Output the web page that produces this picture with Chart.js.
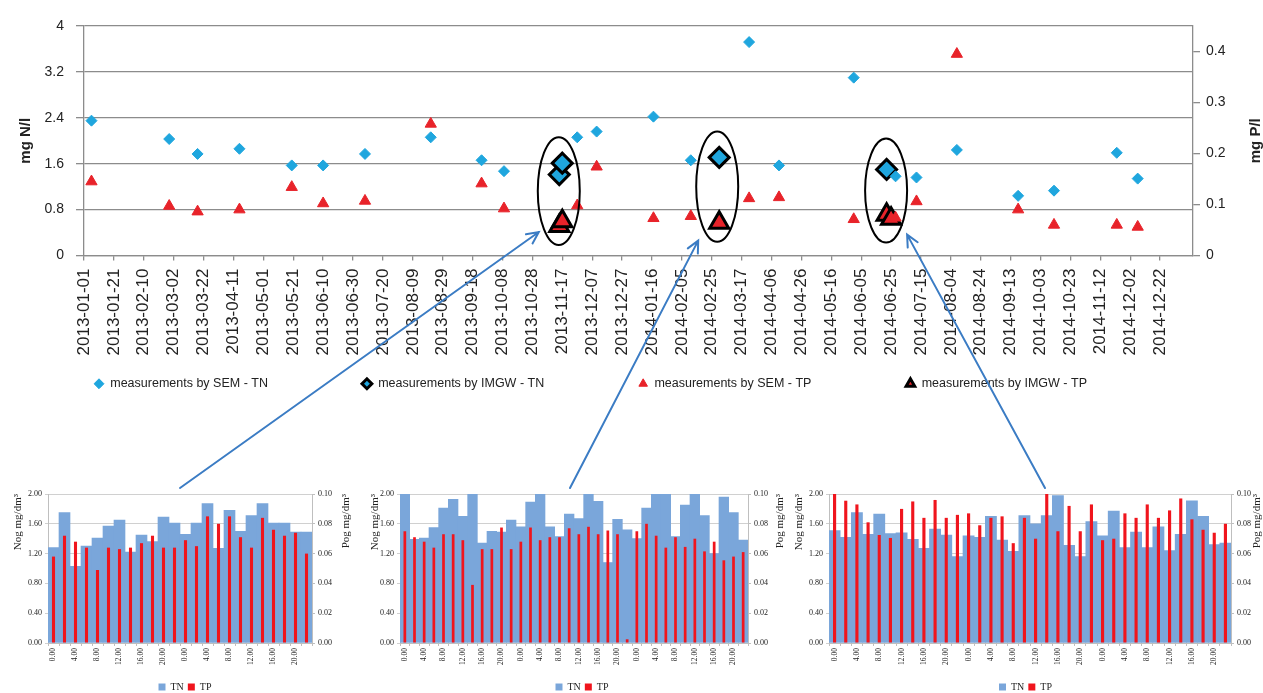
<!DOCTYPE html>
<html>
<head>
<meta charset="utf-8">
<script src="https://cdn.jsdelivr.net/npm/chart.js@4.4.1/dist/chart.umd.min.js"></script>
<style>
html, body { margin: 0; padding: 0; background: #fff; overflow: hidden; }
body { width: 1263px; height: 693px; position: relative; }
canvas { position: absolute; }
</style>
</head>
<body>
<canvas id="main" width="1263" height="400" style="left:0px;top:0px"></canvas>
<canvas id="day1" width="370" height="220" style="left:0px;top:482px"></canvas>
<canvas id="day2" width="440" height="220" style="left:362px;top:482px"></canvas>
<canvas id="day3" width="475" height="220" style="left:788px;top:482px"></canvas>
<canvas id="arrows" width="1263" height="693" style="left:0px;top:0px;pointer-events:none"></canvas>
<script>
// tick labels of the date axis (every 20 days)
var xTickLabels = ['2013-01-01','2013-01-21','2013-02-10','2013-03-02','2013-03-22','2013-04-11','2013-05-01','2013-05-21',
  '2013-06-10','2013-06-30','2013-07-20','2013-08-09','2013-08-29','2013-09-18','2013-10-08','2013-10-28','2013-11-17',
  '2013-12-07','2013-12-27','2014-01-16','2014-02-05','2014-02-25','2014-03-17','2014-04-06','2014-04-26','2014-05-16',
  '2014-06-05','2014-06-25','2014-07-15','2014-08-04','2014-08-24','2014-09-13','2014-10-03','2014-10-23','2014-11-12',
  '2014-12-02','2014-12-22'];
var xMinDate = '2013-01-01';
var xMaxDate = '2015-01-13';

// SEM measurements
var semDates = ['2013-01-06','2013-02-27','2013-03-18','2013-04-15','2013-05-20','2013-06-10','2013-07-08','2013-08-21',
  '2013-09-24','2013-10-09','2013-11-27','2013-12-10','2014-01-17','2014-02-11','2014-03-22','2014-04-11','2014-05-31',
  '2014-06-28','2014-07-12','2014-08-08','2014-09-18','2014-10-12','2014-11-23','2014-12-07'];
var semTN = [2.35, 2.03, 1.77, 1.86, 1.57, 1.57, 1.77, 2.06, 1.66, 1.47, 2.06, 2.16, 2.42, 1.66, 3.72, 1.57, 3.10,
  1.38, 1.36, 1.84, 1.04, 1.13, 1.79, 1.34];
var semTP = [0.145, 0.097, 0.086, 0.090, 0.134, 0.102, 0.107, 0.258, 0.141, 0.092, 0.098, 0.174, 0.073, 0.077, 0.112,
  0.114, 0.071, 0.074, 0.106, 0.395, 0.090, 0.060, 0.060, 0.056];

// IMGW measurements
var imgwTnDates = ['2013-11-15','2013-11-17','2014-03-02','2014-06-22'];
var imgwTN = [1.41, 1.61, 1.71, 1.50];
var imgwTpDates = ['2013-11-15','2013-11-17','2014-03-02','2014-06-22','2014-06-25'];
var imgwTP = [0.058, 0.067, 0.064, 0.080, 0.072];

// 2-hourly IMGW series
var hourLabels = ['0.00','2.00','4.00','6.00','8.00','10.00','12.00','14.00','16.00','18.00','20.00','22.00'];
var day1TN = [1.28, 1.75, 1.03, 1.30, 1.41, 1.57, 1.65, 1.22, 1.45, 1.36, 1.69, 1.61, 1.46, 1.61, 1.87, 1.27,
  1.78, 1.50, 1.71, 1.87, 1.61, 1.61, 1.49, 1.49];
var day1TP = [0.058, 0.072, 0.068, 0.064, 0.049, 0.064, 0.063, 0.064, 0.067, 0.072, 0.064, 0.064, 0.069, 0.065,
  0.085, 0.080, 0.085, 0.071, 0.064, 0.084, 0.076, 0.072, 0.074, 0.060];
var day2TN = [2.00, 1.39, 1.41, 1.55, 1.81, 1.93, 1.70, 2.00, 1.34, 1.50, 1.49, 1.65, 1.56, 1.89, 2.00, 1.56, 1.43, 1.73,
  1.67, 2.00, 1.90, 1.08, 1.66, 1.52, 1.40, 1.81, 2.00, 2.00, 1.43, 1.85, 2.00, 1.71, 1.20, 1.96, 1.75, 1.38];
var day2TP = [0.075, 0.071, 0.068, 0.064, 0.073, 0.073, 0.069, 0.039, 0.063, 0.063, 0.0775, 0.063, 0.068, 0.0775,
  0.069, 0.071, 0.071, 0.077, 0.073, 0.078, 0.073, 0.0755, 0.073, 0.0025, 0.075, 0.080, 0.072, 0.064, 0.071, 0.0645,
  0.070, 0.0615, 0.068, 0.0555, 0.058, 0.061];
var day3TN = [1.51, 1.42, 1.75, 1.46, 1.73, 1.47, 1.48, 1.39, 1.27, 1.53, 1.45, 1.16, 1.44, 1.42, 1.70, 1.38, 1.23,
  1.71, 1.60, 1.71, 1.98, 1.31, 1.16, 1.63, 1.44, 1.77, 1.28, 1.49, 1.28, 1.56, 1.24, 1.46, 1.91, 1.70, 1.32, 1.34];
var day3TP = [0.100, 0.0955, 0.093, 0.081, 0.0725, 0.0705, 0.090, 0.095, 0.084, 0.096, 0.084, 0.086, 0.087, 0.079,
  0.084, 0.085, 0.067, 0.084, 0.070, 0.100, 0.075, 0.092, 0.075, 0.093, 0.069, 0.070, 0.087, 0.084, 0.093, 0.084,
  0.089, 0.097, 0.083, 0.076, 0.074, 0.080];

Chart.defaults.font.family = 'Liberation Sans';
Chart.defaults.color = '#333';
Chart.defaults.animation = false;

function dayOf(s) {
  var p = s.split('-'), q = xMinDate.split('-');
  return (Date.UTC(+p[0], p[1] - 1, +p[2]) - Date.UTC(+q[0], q[1] - 1, +q[2])) / 86400000;
}
function points(dates, vals) {
  return dates.map(function (d, i) { return { x: dayOf(d), y: vals[i] }; });
}

// vertical title drawn bottom-to-top next to a right axis
var sideTitle = {
  id: 'sideTitle',
  afterDraw: function (chart, args, o) {
    var s = chart.scales[o.axis], ctx = chart.ctx;
    var y = o.align === 'end' ? s.top : (s.top + s.bottom) / 2;
    ctx.save();
    ctx.translate(s.left + o.dx, y);
    ctx.rotate(-Math.PI / 2);
    ctx.font = o.font;
    ctx.fillStyle = '#222';
    ctx.textAlign = o.align === 'end' ? 'right' : 'center';
    ctx.textBaseline = 'middle';
    ctx.fillText(o.text, 0, 0);
    ctx.restore();
  }
};

// let the long date labels run down past the (short) x axis box
var labelRoom = {
  id: 'labelRoom',
  afterLayout: function (chart, args, o) {
    var s = chart.scales.x;
    s.bottom = s.top + o.height;
  }
};

// ellipses round the IMGW campaigns
var campaigns = {
  id: 'campaigns',
  afterDatasetsDraw: function (chart) {
    var xs = chart.scales.x, ys = chart.scales.y, y1 = chart.scales.y1, ctx = chart.ctx;
    var pts = [];
    imgwTnDates.forEach(function (d, i) { pts.push([xs.getPixelForValue(dayOf(d)), ys.getPixelForValue(imgwTN[i])]); });
    imgwTpDates.forEach(function (d, i) { pts.push([xs.getPixelForValue(dayOf(d)), y1.getPixelForValue(imgwTP[i])]); });
    pts.sort(function (a, b) { return a[0] - b[0]; });
    var groups = [];
    pts.forEach(function (p) {
      var g = groups[groups.length - 1];
      if (g && p[0] - g.last < 20) { g.pts.push(p); g.last = p[0]; }
      else groups.push({ pts: [p], last: p[0] });
    });
    chart.$ellipses = groups.map(function (g) {
      var xsum = 0, top = Infinity, bot = -Infinity;
      g.pts.forEach(function (p) { xsum += p[0]; top = Math.min(top, p[1]); bot = Math.max(bot, p[1]); });
      top -= 26; bot += 19;
      var cy = (top + bot) / 2;
      return { cx: xsum / g.pts.length - 2, cy: cy, rx: 21, ry: Math.max((bot - top) / 2, 52) };
    });
    ctx.save();
    ctx.strokeStyle = '#000';
    ctx.lineWidth = 2;
    chart.$ellipses.forEach(function (e) {
      ctx.beginPath();
      ctx.ellipse(e.cx, e.cy, e.rx, e.ry, 0, 0, Math.PI * 2);
      ctx.stroke();
    });
    ctx.restore();
  }
};

var gridGrey = '#8c8c8c';
var blue = '#1fa6de', red = '#e8232a';

var main = new Chart(document.getElementById('main'), {
  type: 'scatter',
  data: {
    datasets: [
      { label: 'measurements by SEM - TN', data: points(semDates, semTN), yAxisID: 'y',
        pointStyle: 'rectRot', pointRadius: 5.5, backgroundColor: blue, borderColor: blue, borderWidth: 1 },
      { label: 'measurements by IMGW - TN', data: points(imgwTnDates, imgwTN), yAxisID: 'y',
        pointStyle: 'rectRot', pointRadius: 10, backgroundColor: blue, borderColor: '#000', borderWidth: 3 },
      { label: 'measurements by SEM - TP', data: points(semDates, semTP), yAxisID: 'y1',
        pointStyle: 'triangle', pointRadius: 6.5, backgroundColor: red, borderColor: red, borderWidth: 1 },
      { label: 'measurements by IMGW - TP', data: points(imgwTpDates, imgwTP), yAxisID: 'y1',
        pointStyle: 'triangle', pointRadius: 11, backgroundColor: red, borderColor: '#000', borderWidth: 3 }
    ]
  },
  options: {
    responsive: false,
    layout: { padding: { top: 26 } },
    plugins: {
      tooltip: { enabled: false },
      legend: {
        position: 'bottom', align: 'start',
        labels: { usePointStyle: true, boxWidth: 10, boxHeight: 7, padding: 94, color: '#222',
          font: { size: 12.5 } }
      },
      sideTitle: { axis: 'y1', text: 'mg P/l', dx: 63, align: 'center', font: 'bold 15px "Liberation Sans"' },
      labelRoom: { height: 110 }
    },
    scales: {
      x: {
        type: 'linear', position: 'bottom',
        min: dayOf(xMinDate), max: dayOf(xMaxDate),
        afterBuildTicks: function (s) { s.ticks = xTickLabels.map(function (d) { return { value: dayOf(d) }; }); },
        afterFit: function (s) { s.height = 28; },
        ticks: { autoSkip: false, minRotation: 90, maxRotation: 90, padding: 8, color: '#222', font: { size: 17 },
          callback: function (v, i) { return xTickLabels[i]; } },
        grid: { drawOnChartArea: false, tickLength: 5, color: gridGrey, lineWidth: 1.3 },
        border: { color: gridGrey, width: 1.3 }
      },
      y: {
        position: 'left', min: 0, max: 4,
        afterFit: function (s) { s.width = 84; },
        ticks: { stepSize: 0.8, padding: 12, color: '#222', font: { size: 14 },
          callback: function (v) { return String(Math.round(v * 10) / 10); } },
        grid: { color: gridGrey, lineWidth: 1.3, tickLength: 8 },
        border: { color: gridGrey, width: 1.3 },
        title: { display: true, text: 'mg N/l', color: '#222', font: { size: 15, weight: 'bold' }, padding: { top: 17 } }
      },
      y1: {
        position: 'right', min: 0, max: 0.45,
        afterBuildTicks: function (s) { s.ticks = [0, 0.1, 0.2, 0.3, 0.4].map(function (v) { return { value: v }; }); },
        afterFit: function (s) { s.width = 70; },
        ticks: { padding: 6, color: '#222', font: { size: 14 },
          callback: function (v) { return String(Math.round(v * 10) / 10); } },
        grid: { drawOnChartArea: false, color: gridGrey, lineWidth: 1.3, tickLength: 7 },
        border: { color: gridGrey, width: 1.3 }
      }
    }
  },
  plugins: [campaigns, sideTitle, labelRoom]
});

function dayChart(id, tn, tp, nDays, o) {
  var labels = [];
  for (var d = 0; d < nDays; d++) labels = labels.concat(hourLabels);
  var serif = 'Liberation Serif';
  return new Chart(document.getElementById(id), {
    type: 'bar',
    data: {
      labels: labels,
      datasets: [
        { label: 'TN', data: tn, yAxisID: 'y', backgroundColor: '#7aa6da', borderWidth: 0,
          barPercentage: 1, categoryPercentage: 1, grouped: false, order: 1 },
        { label: 'TP', data: tp, yAxisID: 'y1', backgroundColor: '#f0151d', borderWidth: 0,
          barPercentage: 0.28, categoryPercentage: 1, grouped: false, order: 0 }
      ]
    },
    options: {
      responsive: false,
      layout: { padding: { top: 12 } },
      plugins: {
        tooltip: { enabled: false },
        legend: {
          position: 'bottom',
          labels: { boxWidth: 7, boxHeight: 7, padding: 4, color: '#222', font: { family: serif, size: 10 },
            sort: function (a, b) { return a.datasetIndex - b.datasetIndex; } }
        },
        sideTitle: { axis: 'y1', text: 'Pog mg/dm³', dx: o.rightTitleDx, align: 'end', font: '11px "Liberation Serif"' }
      },
      scales: {
        x: {
          afterFit: function (s) { s.height = 35; },
          ticks: { autoSkip: false, minRotation: 90, maxRotation: 90, padding: 2, color: '#222',
            font: { family: serif, size: 7.5 },
            callback: function (v, i) { return i % 2 ? '' : this.getLabelForValue(v); } },
          grid: { drawOnChartArea: false, tickLength: 3, color: '#bfbfbf' },
          border: { color: '#bfbfbf' }
        },
        y: {
          position: 'left', min: 0, max: 2,
          afterFit: function (s) { s.width = o.leftWidth; },
          ticks: { stepSize: 0.4, padding: 3, color: '#222', font: { family: serif, size: 8 },
            callback: function (v) { return v.toFixed(2); } },
          grid: { color: '#d0d0d0', tickLength: 3 },
          border: { color: '#bfbfbf' },
          title: { display: true, text: 'Nog mg/dm³', align: 'end', color: '#222',
            font: { family: serif, size: 11 }, padding: { top: o.leftTitlePad } }
        },
        y1: {
          position: 'right', min: 0, max: 0.1,
          afterFit: function (s) { s.width = o.rightWidth; },
          ticks: { stepSize: 0.02, padding: 3, color: '#222', font: { family: serif, size: 8 },
            callback: function (v) { return v.toFixed(2); } },
          grid: { drawOnChartArea: false, color: '#bfbfbf', tickLength: 3 },
          border: { color: '#bfbfbf' }
        }
      }
    },
    plugins: [sideTitle]
  });
}

var d1 = dayChart('day1', day1TN, day1TP, 2, { leftWidth: 48, rightWidth: 58, leftTitlePad: 12, rightTitleDx: 34 });
var d2 = dayChart('day2', day2TN, day2TP, 3, { leftWidth: 38, rightWidth: 54, leftTitlePad: 7, rightTitleDx: 32 });
var d3 = dayChart('day3', day3TN, day3TP, 3, { leftWidth: 41, rightWidth: 32, leftTitlePad: 5, rightTitleDx: 26 });

// arrows from each daily chart to its campaign on the main chart
(function () {
  var cv = document.getElementById('arrows'), ctx = cv.getContext('2d');
  var small = [[d1, 0, 482], [d2, 362, 482], [d3, 788, 482]];
  var headOffsets = [[-20, 41], [-19, 54], [21, 44]];
  var tailShift = [0, -4, 15];
  ctx.strokeStyle = '#3b7cc4';
  ctx.lineWidth = 2;
  ctx.lineCap = 'round';
  (main.$ellipses || []).forEach(function (e, i) {
    if (!small[i]) return;
    var ca = small[i][0].chartArea;
    var x0 = small[i][1] + (ca.left + ca.right) / 2 + tailShift[i];
    var y0 = small[i][2] + ca.top - 6;
    var x1 = e.cx + headOffsets[i][0], y1 = e.cy + headOffsets[i][1];
    var a = Math.atan2(y1 - y0, x1 - x0), h = 13;
    ctx.beginPath();
    ctx.moveTo(x0, y0);
    ctx.lineTo(x1, y1);
    ctx.moveTo(x1 - h * Math.cos(a - 0.45), y1 - h * Math.sin(a - 0.45));
    ctx.lineTo(x1, y1);
    ctx.lineTo(x1 - h * Math.cos(a + 0.45), y1 - h * Math.sin(a + 0.45));
    ctx.stroke();
  });
})();
</script>
</body>
</html>
